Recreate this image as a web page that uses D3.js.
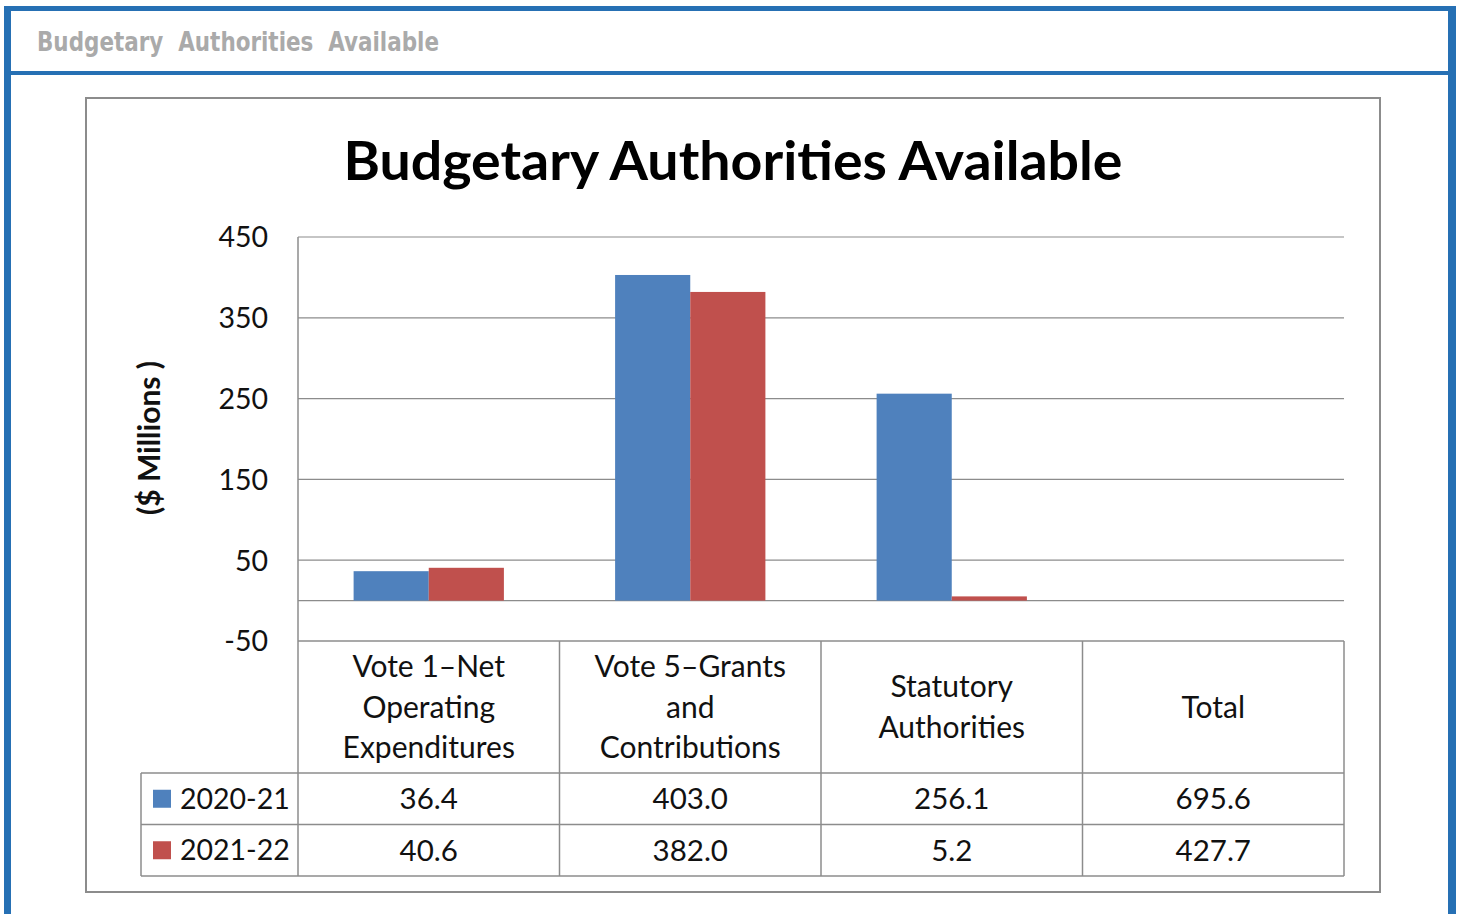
<!DOCTYPE html>
<html>
<head>
<meta charset="utf-8">
<script src="https://cdn.jsdelivr.net/npm/d3@7"></script>
<style>
  html, body { margin: 0; padding: 0; background: #fff; }
  svg { display: block; }
</style>
</head>
<body>
<div id="chart"></div>
<script>
// chart values
const categories = ["Vote 1–Net Operating Expenditures", "Vote 5–Grants and Contributions", "Statutory Authorities", "Total"];
const categoryLines = [["Vote 1–Net", "Operating", "Expenditures"], ["Vote 5–Grants", "and", "Contributions"], ["Statutory", "Authorities"], ["Total"]];
const seriesNames = ["2020-21", "2021-22"];
const values2020 = [36.4, 403.0, 256.1, 695.6];
const values2021 = [40.6, 382.0, 5.2, 427.7];
const barCategories = categories.slice(0, 3); // Total only appears in the table
const yTicks = [450, 350, 250, 150, 50, -50];
const colors = ["#4f81bd", "#c0504d"];

const W = 1461, H = 914;
const font = "Lato, 'Open Sans', sans-serif";

const svg = d3.select("#chart").append("svg")
  .attr("width", W)
  .attr("height", H);

// page frame
const blue = "#2670b4";
svg.append("rect").attr("x", 4).attr("y", 6).attr("width", 7).attr("height", H - 6).attr("fill", blue);
svg.append("rect").attr("x", 4).attr("y", 6).attr("width", 1452).attr("height", 5).attr("fill", blue);
svg.append("rect").attr("x", 1448).attr("y", 6).attr("width", 8).attr("height", H - 6).attr("fill", blue);
svg.append("rect").attr("x", 11).attr("y", 71).attr("width", 1437).attr("height", 4).attr("fill", blue);

svg.append("text")
  .attr("x", 37).attr("y", 51)
  .attr("textLength", 402).attr("lengthAdjust", "spacingAndGlyphs")
  .style("font-family", "'DejaVu Sans Condensed', 'DejaVu Sans', sans-serif")
  .style("font-weight", "bold")
  .style("font-size", "27px")
  .style("fill", "#aaaaaa")
  .style("white-space", "pre")
  .text("Budgetary  Authorities  Available");

// chart box
svg.append("rect")
  .attr("x", 86).attr("y", 98).attr("width", 1294).attr("height", 794)
  .attr("fill", "#fff").attr("stroke", "#8c8c8c").attr("stroke-width", 2);

svg.append("text")
  .attr("x", 733).attr("y", 180)
  .attr("text-anchor", "middle")
  .attr("textLength", 779).attr("lengthAdjust", "spacingAndGlyphs")
  .style("font-family", font)
  .style("font-weight", "bold")
  .style("font-size", "53px")
  .style("fill", "#000")
  .text("Budgetary Authorities Available");

// scales
const plotLeft = 298, plotRight = 1344, plotTop = 237, plotBottom = 641;
const x0 = d3.scaleBand().domain(categories).range([plotLeft, plotRight]);
const x1 = d3.scaleBand().domain(seriesNames).range([0, x0.bandwidth()]).paddingOuter(0.74);
const y = d3.scaleLinear().domain([-50, 450]).range([plotBottom, plotTop]);

const gridColor = "#8c8c8c";

// gridlines
svg.append("g")
  .selectAll("line")
  .data(yTicks.filter(d => d > -50).concat([0]))
  .join("line")
  .attr("x1", plotLeft).attr("x2", plotRight)
  .attr("y1", d => y(d)).attr("y2", d => y(d))
  .attr("stroke", gridColor).attr("stroke-width", 1.2);

// y axis labels
const yAxis = svg.append("g")
  .attr("transform", `translate(${plotLeft},0)`)
  .call(d3.axisLeft(y).tickValues(yTicks).tickFormat(d => String(d)).tickSize(0).tickPadding(30));
yAxis.select(".domain").remove();
yAxis.selectAll("text")
  .style("font-family", font)
  .style("font-size", "28.5px")
  .style("fill", "#111")
  .attr("dy", "0.35em");

svg.append("text")
  .attr("transform", "translate(160,438) rotate(-90)")
  .attr("text-anchor", "middle")
  .style("font-family", font)
  .style("font-weight", "bold")
  .style("font-size", "30px")
  .style("fill", "#111")
  .text("($ Millions )");

// bars
const series = [values2020, values2021];
const barData = [];
barCategories.forEach((c, i) => {
  seriesNames.forEach((s, j) => barData.push({ c, s, v: series[j][i], color: colors[j] }));
});
svg.append("g")
  .selectAll("rect")
  .data(barData)
  .join("rect")
  .attr("x", d => x0(d.c) + x1(d.s))
  .attr("width", x1.bandwidth())
  .attr("y", d => y(Math.max(0, d.v)))
  .attr("height", d => Math.abs(y(d.v) - y(0)))
  .attr("fill", d => d.color);

// data table
const rowTop = 773, rowH = 51.5;
const tableLeft = 141;
const tableBottom = rowTop + rowH * 2;
const t = svg.append("g").attr("stroke", gridColor).attr("stroke-width", 1.5);
t.append("line").attr("x1", plotLeft).attr("x2", plotRight).attr("y1", plotBottom).attr("y2", plotBottom);
[rowTop, rowTop + rowH, tableBottom].forEach(yy =>
  t.append("line").attr("x1", tableLeft).attr("x2", plotRight).attr("y1", yy).attr("y2", yy));
t.append("line").attr("x1", tableLeft).attr("x2", tableLeft).attr("y1", rowTop).attr("y2", tableBottom);
t.append("line").attr("x1", plotLeft).attr("x2", plotLeft).attr("y1", plotTop).attr("y2", tableBottom);
categories.forEach(c => {
  const xr = x0(c) + x0.bandwidth();
  t.append("line").attr("x1", xr).attr("x2", xr).attr("y1", plotBottom).attr("y2", tableBottom);
});

// category headers
const headG = svg.append("g")
  .style("font-family", font).style("font-size", "30px").style("fill", "#111")
  .attr("text-anchor", "middle");
categories.forEach((c, i) => {
  const lines = categoryLines[i];
  const cy = (plotBottom + rowTop) / 2;
  const lh = 40.5;
  lines.forEach((ln, k) => {
    headG.append("text")
      .attr("x", x0(c) + x0.bandwidth() / 2)
      .attr("y", cy + (k - (lines.length - 1) / 2) * lh)
      .attr("dy", "0.35em")
      .text(ln);
  });
});

// rows
const cellG = svg.append("g")
  .style("font-family", font).style("font-size", "29.5px").style("fill", "#111");
series.forEach((vals, j) => {
  const cy = rowTop + rowH * j + rowH / 2;
  cellG.append("rect")
    .attr("x", 153).attr("y", cy - 9).attr("width", 18).attr("height", 18)
    .attr("fill", colors[j]);
  cellG.append("text")
    .attr("x", 180).attr("y", cy).attr("dy", "0.35em")
    .style("font-size", "28.5px")
    .text(seriesNames[j]);
  categories.forEach((c, i) => {
    cellG.append("text")
      .attr("x", x0(c) + x0.bandwidth() / 2)
      .attr("y", cy).attr("dy", "0.35em")
      .attr("text-anchor", "middle")
      .text(vals[i].toFixed(1));
  });
});
</script>
</body>
</html>
